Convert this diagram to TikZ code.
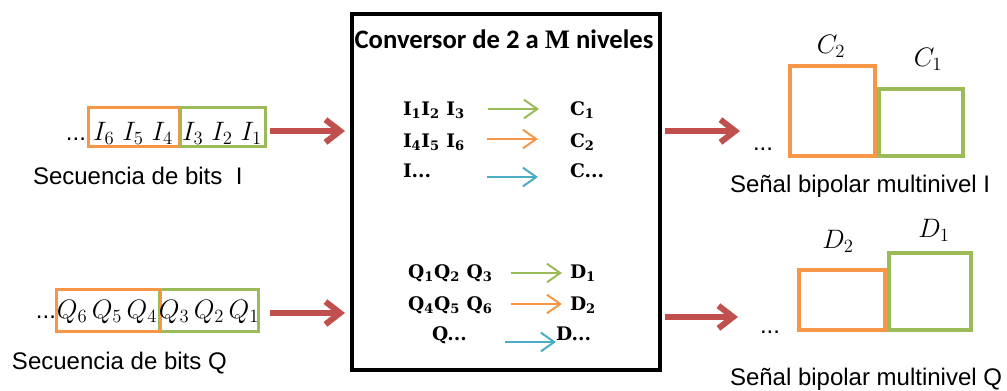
\documentclass[tikz,border=0pt]{standalone}
\usepackage{fix-cm}
\usepackage{fontspec}
\setmainfont{Liberation Sans}
\newfontfamily\titlefont{Carlito}
\newfontfamily\cambfont{DejaVu Serif}
\newfontfamily\tnrfont{Liberation Serif}
\usetikzlibrary{arrows.meta}
\definecolor{borange}{HTML}{F79646}
\definecolor{bgreen}{HTML}{9BBB59}
\definecolor{bblue}{HTML}{4BACC6}
\definecolor{bred}{HTML}{C0504D}
\begin{document}
\begin{tikzpicture}[x=0.75pt,y=-0.75pt,
  every node/.style={inner sep=0pt,outer sep=0pt},
  seqbox/.style={draw=#1,line width=2.25pt},
  lvlbox/.style={draw=#1,line width=3pt},
  convbox/.style={draw=black,line width=3pt},
  caption/.style={font=\fontsize{18}{21}\selectfont},
  mathlbl/.style={font=\fontsize{20}{24}\selectfont},
  maptext/.style={font=\cambfont\bfseries\fontsize{14}{17}\selectfont},
  redarr/.style={draw=bred,line width=4.5pt,-{Straight Barb[length=11pt,width=17pt]}},
  maparr/.style={draw=#1,line width=1.5pt,-{Straight Barb[length=10pt,width=14pt]}}
]
\useasboundingbox (0,0) rectangle (1007,390);

% converter block
\node[convbox,minimum width=231pt,minimum height=267pt] (conv) at (506,192) {};
\node[anchor=base] (title) at (504,48)
  {\titlefont\bfseries\fontsize{20}{24}\selectfont Conversor de 2 a {\tnrfont M} niveles};

% mapping texts (I)
\node[maptext,anchor=base west] (i1) at (403,115) {I\textsubscript{1}I\textsubscript{2} I\textsubscript{3}};
\node[maptext,anchor=base west] (i2) at (403,147) {I\textsubscript{4}I\textsubscript{5} I\textsubscript{6}};
\node[maptext,anchor=base west] (i3) at (403,177) {I...};
\node[maptext,anchor=base west] (c1) at (570,115) {C\textsubscript{1}};
\node[maptext,anchor=base west] (c2) at (570,147) {C\textsubscript{2}};
\node[maptext,anchor=base west] (c3) at (570,177) {C...};
\coordinate (ga1) at (488,109); \coordinate (gb1) at (539,109);
\coordinate (oa1) at (487,139); \coordinate (ob1) at (538,139);
\coordinate (ba1) at (487,177); \coordinate (bb1) at (538,177);
\draw[maparr=bgreen] (ga1) -- (gb1);
\draw[maparr=borange] (oa1) -- (ob1);
\draw[maparr=bblue] (ba1) -- (bb1);

% mapping texts (Q)
\node[maptext,anchor=base west] (q1) at (408,278) {Q\textsubscript{1}Q\textsubscript{2} Q\textsubscript{3}};
\node[maptext,anchor=base west] (q2) at (408,310) {Q\textsubscript{4}Q\textsubscript{5} Q\textsubscript{6}};
\node[maptext,anchor=base west] (q3) at (432,340) {Q...};
\node[maptext,anchor=base west] (d1) at (570,278) {D\textsubscript{1}};
\node[maptext,anchor=base west] (d2) at (570,310) {D\textsubscript{2}};
\node[maptext,anchor=base west] (d3) at (556,340) {D...};
\coordinate (ga2) at (511,273); \coordinate (gb2) at (562,273);
\coordinate (oa2) at (511,304); \coordinate (ob2) at (562,304);
\coordinate (ba2) at (505,342); \coordinate (bb2) at (556,342);
\draw[maparr=bgreen] (ga2) -- (gb2);
\draw[maparr=borange] (oa2) -- (ob2);
\draw[maparr=bblue] (ba2) -- (bb2);

% input sequence I
\node[seqbox=borange,minimum width=68.6pt,minimum height=29.25pt] (oI) at (134.25,127) {};
\node[seqbox=bgreen,minimum width=64.1pt,minimum height=29.25pt] (gI) at (222.75,127) {};
\node[mathlbl,anchor=base] (tI1) at (133,140) {$I_6\hspace{6pt}I_5\hspace{6pt}I_4$};
\node[mathlbl,anchor=base] (tI2) at (222,140) {$I_3\hspace{6pt}I_2\hspace{6pt}I_1$};
\node[caption,anchor=base east] (dotsLI) at (86,140) {...};
\node[caption,anchor=base west] (capI) at (33,184) {Secuencia de bits\ \ I};

% input sequence Q
\node[seqbox=bgreen,minimum width=74.25pt,minimum height=31.5pt] (gQ) at (209,310.5) {};
\node[seqbox=borange,minimum width=78pt,minimum height=31.5pt] (oQ) at (108.5,310.5) {};
\node[mathlbl,anchor=base] (tQ1) at (107,318) {$Q_6\,Q_5\,Q_4$};
\node[mathlbl,anchor=base] (tQ2) at (209,318) {$Q_3\,Q_2\,Q_1$};
\node[caption,anchor=base east] (dotsLQ) at (56,318) {...};
\node[caption,anchor=base west] (capQ) at (12,369) {Secuencia de bits Q};

% output levels I
\node[lvlbox=borange,minimum width=63.75pt,minimum height=67.5pt] (oC) at (832.5,111) {};
\node[lvlbox=bgreen,minimum width=63pt,minimum height=50.25pt] (gC) at (921,122.5) {};
\node[mathlbl,anchor=base] (lC2) at (831,53) {$C_2$};
\node[mathlbl,anchor=base] (lC1) at (928,66) {$C_1$};
\node[caption,anchor=base west] (dotsRI) at (753,150) {...};
\node[caption,anchor=base west] (capRI) at (730,192) {Señal bipolar multinivel I};

% output levels Q
\node[lvlbox=borange,minimum width=64.5pt,minimum height=45pt] (oD) at (842,300) {};
\node[lvlbox=bgreen,minimum width=61.5pt,minimum height=57.75pt] (gD) at (930,291.5) {};
\node[mathlbl,anchor=base] (lD2) at (838,248) {$D_2$};
\node[mathlbl,anchor=base] (lD1) at (934,237) {$D_1$};
\node[caption,anchor=base west] (dotsRQ) at (760,333) {...};
\node[caption,anchor=base west] (capRQ) at (730,385) {Señal bipolar multinivel Q};

% red arrows
\coordinate (rowI) at (0,131);
\coordinate (rowQl) at (0,313);
\coordinate (rowQr) at (0,317);
\draw[redarr,shorten <=3.4pt,shorten >=5.25pt] (gI.east |- rowI) -- (conv.west |- rowI);
\draw[redarr,shorten <=8.6pt,shorten >=5.25pt] (gQ.east |- rowQl) -- (conv.west |- rowQl);
\draw[redarr,shorten <=3.75pt,shorten >=9.75pt] (conv.east |- rowI) -- (dotsRI.west |- rowI);
\draw[redarr,shorten <=3.75pt,shorten >=16.5pt] (conv.east |- rowQr) -- (dotsRQ.west |- rowQr);
\end{tikzpicture}
\end{document}
